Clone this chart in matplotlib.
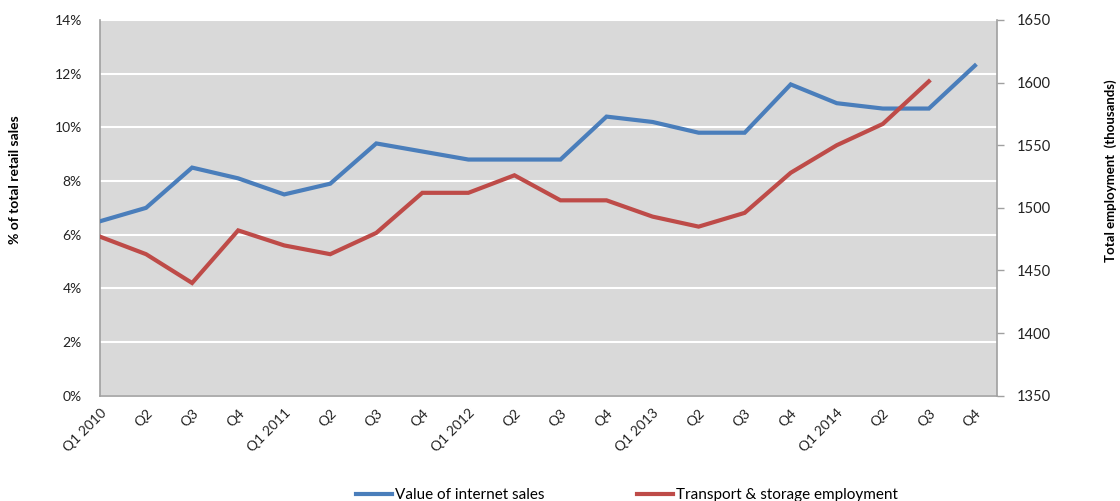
import matplotlib
matplotlib.use("Agg")
import matplotlib.pyplot as plt
import numpy as np
from matplotlib.ticker import FuncFormatter, MultipleLocator

plt.rcParams['font.family'] = ['Lato', 'DejaVu Sans']

quarters = ["Q1 2010", "Q2", "Q3", "Q4",
            "Q1 2011", "Q2", "Q3", "Q4",
            "Q1 2012", "Q2", "Q3", "Q4",
            "Q1 2013", "Q2", "Q3", "Q4",
            "Q1 2014", "Q2", "Q3", "Q4"]

internet_sales_pct = [6.5, 7.0, 8.5, 8.1, 7.5, 7.9, 9.4, 9.1, 8.8, 8.8,
                      8.8, 10.4, 10.2, 9.8, 9.8, 11.6, 10.9, 10.7, 10.7, 12.3]

transport_employment = [1477, 1463, 1440, 1482, 1470, 1463, 1480, 1512, 1512, 1526,
                        1506, 1506, 1493, 1485, 1496, 1528, 1550, 1567, 1601, np.nan]

blue = "#4a7ebb"
red = "#be4b48"

fig = plt.figure(figsize=(11.2, 5.01), dpi=100)
ax = fig.add_axes([100 / 1120, 1 - 395.7 / 501, 897 / 1120, 375.7 / 501])
ax2 = ax.twinx()

x = np.arange(len(quarters))
ax.set_facecolor("#d9d9d9")
l1, = ax.plot(x, internet_sales_pct, color=blue, lw=3, solid_joinstyle='miter',
              label="Value of internet sales", zorder=3)
l2, = ax2.plot(x, transport_employment, color=red, lw=3, solid_joinstyle='miter',
               label="Transport & storage employment", zorder=3)

ax.set_xlim(0, 19.48)
ax.set_ylim(0, 14)
ax2.set_ylim(1350, 1650)
ax.yaxis.set_major_locator(MultipleLocator(2))
ax.yaxis.set_major_formatter(FuncFormatter(lambda v, p: f"{v:.0f}%"))
ax2.yaxis.set_major_locator(MultipleLocator(50))

ax.grid(axis='y', color='white', lw=1.5)
ax.set_axisbelow(True)

ax.set_xticks(x)
ax.set_xticklabels(quarters, rotation=45, ha='right', rotation_mode='anchor',
                   fontsize=10, color='#222222')
ax.tick_params(axis='x', length=0, pad=8)
ax.tick_params(axis='y', length=0, pad=13, labelsize=10, labelcolor='#222222')
ax2.tick_params(axis='y', length=5, width=1, color='#a0a0a0', pad=9,
                labelsize=10.5, labelcolor='#222222')

for a in (ax, ax2):
    for s in a.spines.values():
        s.set_visible(False)
ax.spines['left'].set_visible(True)
ax.spines['left'].set_color('#a0a0a0')
ax.spines['left'].set_linewidth(1.2)
ax.spines['bottom'].set_visible(True)
ax.spines['bottom'].set_color('#a0a0a0')
ax.spines['bottom'].set_linewidth(1.2)
ax2.spines['right'].set_visible(True)
ax2.spines['right'].set_color('#a0a0a0')
ax2.spines['right'].set_linewidth(1.2)

fig.text(15 / 1120, 1 - 180 / 501, "% of total retail sales", rotation=90,
         ha='center', va='center', fontsize=10, fontweight='bold')
fig.text(1111 / 1120, 1 - 171 / 501, "Total employment  (thousands)", rotation=90,
         ha='center', va='center', fontsize=9.5, fontweight='bold')

fig.legend(handles=[l1, l2], loc='center', bbox_to_anchor=(627 / 1120, 1 - 495 / 501),
           ncol=2, frameon=False, fontsize=11, handlelength=2.4, handletextpad=0.2,
           columnspacing=6.0)

fig.savefig("out.png", dpi=100)
